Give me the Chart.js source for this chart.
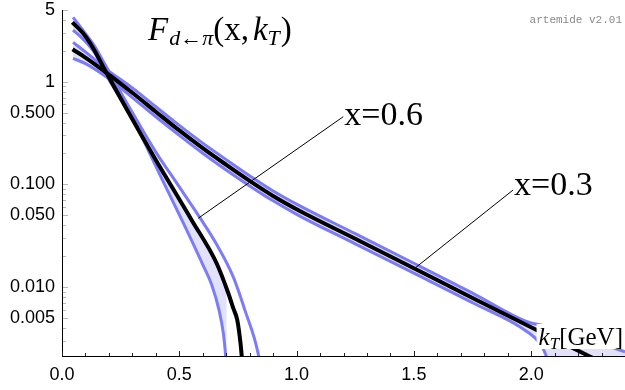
<!DOCTYPE html>
<html>
<head>
<meta charset="utf-8">
<script src="https://cdn.jsdelivr.net/npm/chart.js@4.4.1/dist/chart.umd.min.js"></script>
<style>
  html, body { margin: 0; padding: 0; background: #fff; }
  #wrap { width: 625px; height: 390px; position: relative; }
</style>
</head>
<body>
<div id="wrap"><canvas id="c"></canvas></div>
<script>
/* global Chart */

// x = 0.6 : central value and the two band edges (kT in GeV, F)
const kt06Central = [0.044, 0.09, 0.133, 0.187, 0.375, 0.553, 0.659, 0.709, 0.730, 0.747, 0.761, 0.768];
const f06Central  = [3.79, 2.96, 2.12, 1.25, 0.216, 0.0447, 0.0170, 0.00867, 0.0062, 0.00476, 0.00282, 0.0019];
const kt06Upper = [0.047, 0.09, 0.14, 0.19, 0.30, 0.40, 0.49, 0.595, 0.659, 0.730, 0.780, 0.836, 0.848];
const f06Upper  = [4.24, 3.15, 2.2, 1.38, 0.50, 0.206, 0.102, 0.0447, 0.026, 0.0125, 0.0059, 0.00225, 0.0015];
const kt06Lower = [0.047, 0.09, 0.14, 0.19, 0.30, 0.43, 0.517, 0.60, 0.638, 0.669, 0.688, 0.697, 0.702];
const f06Lower  = [3.19, 2.6, 1.9, 1.15, 0.44, 0.108, 0.042, 0.0165, 0.0105, 0.0060, 0.0035, 0.0022, 0.0015];

// x = 0.3
const kt03Central = [0.045, 0.10, 0.19, 0.30, 0.40, 0.50, 0.60, 0.70, 0.80, 0.90, 1.014, 1.25, 1.50, 1.75, 2.008, 2.25, 2.30];
const f03Central  = [2.07, 1.72, 1.22, 0.78, 0.51, 0.335, 0.225, 0.155, 0.108, 0.077, 0.055, 0.0295, 0.0152, 0.0078, 0.00395, 0.0021, 0.00184];
const kt03Upper = [0.047, 0.10, 0.19, 0.30, 0.40, 0.50, 0.60, 0.70, 0.80, 0.90, 1.014, 1.25, 1.50, 1.75, 1.98, 2.093, 2.40];
const f03Upper  = [2.42, 1.95, 1.32, 0.87, 0.57, 0.375, 0.252, 0.174, 0.121, 0.086, 0.0616, 0.033, 0.0170, 0.0087, 0.0046, 0.0040, 0.00233];
// last point is below the axis (the edge drops to zero there)
const kt03Lower = [0.047, 0.10, 0.19, 0.30, 0.40, 0.50, 0.60, 0.70, 0.80, 0.90, 1.014, 1.25, 1.50, 1.75, 1.98, 2.037, 2.065, 2.08, 2.40];
const f03Lower  = [1.69, 1.50, 1.11, 0.70, 0.455, 0.30, 0.201, 0.138, 0.0965, 0.069, 0.049, 0.0263, 0.0136, 0.0070, 0.0037, 0.0028, 0.0021, 0.0015, 0.0008];

// axes
const xMin = 0, xMax = 2.4;
const yMin = 0.00212, yMax = 5;
const xTickValues = [0, 0.5, 1, 1.5, 2];
const xTickLabels = ['0.0', '0.5', '1.0', '1.5', '2.0'];
const xMinorTicks = [0.1, 0.2, 0.3, 0.4, 0.6, 0.7, 0.8, 0.9, 1.1, 1.2, 1.3, 1.4, 1.6, 1.7, 1.8, 1.9, 2.1, 2.2, 2.3, 2.4];
const yTickValues = [5, 1, 0.5, 0.1, 0.05, 0.01, 0.005];
const yTickLabels = ['5', '1', '0.500', '0.100', '0.050', '0.010', '0.005'];
const yMinorTicks = [4, 3, 2, 0.9, 0.8, 0.7, 0.6, 0.4, 0.3, 0.2, 0.09, 0.08, 0.07, 0.06, 0.04, 0.03, 0.02,
  0.009, 0.008, 0.007, 0.006, 0.004, 0.003];

// labels with leader lines: [kT, F] at the curve, [kT, F] at the text
const labelTexts = ['x=0.6', 'x=0.3'];
const leaderFrom = [[0.581, 0.0467], [1.504, 0.0152]];
const leaderTo = [[1.199, 0.456], [1.923, 0.088]];

const BLUE = 'rgb(124,124,248)';
const BAND = 'rgba(222,222,250,0.9)';

function pts(xs, ys) {
  return xs.map((x, i) => ({ x, y: ys[i] }));
}

function lookup(values, labels, v) {
  const i = values.findIndex(t => Math.abs(t - v) < 1e-9);
  return i < 0 ? '' : labels[i];
}

function drawRuns(ctx, x, y, runs) {
  for (const r of runs) {
    ctx.font = r.font;
    ctx.fillText(r.text, x, y + (r.dy || 0));
    x += ctx.measureText(r.text).width + (r.gap || 0);
  }
  return x;
}

const serif = '"Liberation Serif", "DejaVu Serif", serif';

const decorations = {
  id: 'decorations',
  afterDatasetsDraw(chart) {
    const { ctx, chartArea } = chart;
    const xs = chart.scales.x, ys = chart.scales.y;
    ctx.save();

    // leader lines and their labels
    ctx.strokeStyle = '#000';
    ctx.lineWidth = 1;
    ctx.fillStyle = '#000';
    ctx.textBaseline = 'alphabetic';
    labelTexts.forEach((txt, i) => {
      const x0 = xs.getPixelForValue(leaderFrom[i][0]), y0 = ys.getPixelForValue(leaderFrom[i][1]);
      const x1 = xs.getPixelForValue(leaderTo[i][0]), y1 = ys.getPixelForValue(leaderTo[i][1]);
      ctx.beginPath(); ctx.moveTo(x0, y0); ctx.lineTo(x1, y1); ctx.stroke();
      ctx.font = '34px ' + serif;
      ctx.fillText(txt, x1 + 1, y1 + (i === 0 ? 8 : 5));
    });

    // axis label with white box, bottom right
    const base = chartArea.bottom - 11;
    const runsK = [
      { text: 'k', font: 'italic 25px ' + serif },
      { text: 'T', font: 'italic 17px ' + serif, dy: 4 },
      { text: '[GeV]', font: '25px ' + serif }
    ];
    let w = 0;
    for (const r of runsK) { ctx.font = r.font; w += ctx.measureText(r.text).width; }
    const kx = chartArea.right - w - 2;
    ctx.fillStyle = '#fff';
    ctx.fillRect(kx - 2, base - 21, w + 4, 25);
    ctx.fillStyle = '#000';
    drawRuns(ctx, kx, base, runsK);

    // title
    drawRuns(ctx, chartArea.left + 86, chartArea.top + 30, [
      { text: 'F', font: 'italic 33px ' + serif, gap: 1 },
      { text: 'd←π', font: 'italic 22px ' + serif, dy: 5 },
      { text: '(x,', font: '33px ' + serif, gap: 4 },
      { text: 'k', font: 'italic 33px ' + serif },
      { text: 'T', font: 'italic 22px ' + serif, dy: 5, gap: 1 },
      { text: ')', font: '33px ' + serif }
    ]);

    // version tag
    ctx.font = '11px "Liberation Mono", monospace';
    ctx.fillStyle = '#8a8a8a';
    ctx.textAlign = 'right';
    ctx.textBaseline = 'middle';
    ctx.fillText('artemide v2.01', chartArea.right - 3, chartArea.top + 10);
    ctx.restore();
  },
  afterDraw(chart) {
    const { ctx } = chart;
    const xs = chart.scales.x, ys = chart.scales.y;
    ctx.save();
    ctx.lineWidth = 1;
    // x ticks point up into the plot
    ctx.strokeStyle = '#222';
    for (const t of xs.ticks) {
      const px = Math.round(xs.getPixelForValue(t.value)) + 0.5;
      const len = lookup(xTickValues, xTickLabels, t.value) ? 5 : 3;
      ctx.beginPath(); ctx.moveTo(px, ys.bottom); ctx.lineTo(px, ys.bottom - len); ctx.stroke();
    }
    // y ticks, faint, pointing right
    ctx.strokeStyle = '#b8b8b8';
    for (const t of ys.ticks) {
      const py = Math.round(ys.getPixelForValue(t.value)) + 0.5;
      const len = lookup(yTickValues, yTickLabels, t.value) ? 5 : 3;
      ctx.beginPath(); ctx.moveTo(xs.left + 1, py); ctx.lineTo(xs.left + 1 + len, py); ctx.stroke();
    }
    ctx.restore();
  }
};

const line = (data, color, width, fill, bg) => ({
  data,
  parsing: false,
  borderColor: color,
  borderWidth: width,
  backgroundColor: bg || 'transparent',
  fill: fill,
  pointRadius: 0,
  cubicInterpolationMode: 'monotone'
});

new Chart(document.getElementById('c'), {
  type: 'line',
  data: {
    datasets: [
      line(pts(kt06Central, f06Central), '#000', 4, false),
      line(pts(kt03Central, f03Central), '#000', 4, false),
      line(pts(kt06Upper, f06Upper), BLUE, 3, false),
      line(pts(kt06Lower, f06Lower), BLUE, 3, 0, BAND),
      line(pts(kt03Upper, f03Upper), BLUE, 3, false),
      line(pts(kt03Lower, f03Lower), BLUE, 3, 4, BAND)
    ]
  },
  options: {
    responsive: true,
    maintainAspectRatio: false,
    animation: false,
    layout: { padding: { top: 10, right: 0, left: 0, bottom: 0 } },
    scales: {
      x: {
        type: 'linear',
        min: xMin,
        max: xMax,
        afterBuildTicks: (s) => {
          s.ticks = xTickValues.concat(xMinorTicks).sort((a, b) => a - b).map(v => ({ value: v }));
        },
        afterFit: (s) => { s.height = 34; s.paddingLeft = 0; s.paddingRight = 0; },
        ticks: {
          autoSkip: false,
          maxRotation: 0,
          padding: 8,
          color: '#000',
          font: { family: 'Liberation Sans', size: 18 },
          callback: (v) => lookup(xTickValues, xTickLabels, v)
        },
        grid: { display: false, drawTicks: false },
        border: { display: true, color: '#000', width: 1 }
      },
      y: {
        type: 'logarithmic',
        min: yMin,
        max: yMax,
        afterBuildTicks: (s) => {
          s.ticks = yTickValues.concat(yMinorTicks).sort((a, b) => b - a).map(v => ({ value: v }));
        },
        afterFit: (s) => { s.width = 62; s.paddingTop = 0; s.paddingBottom = 0; },
        ticks: {
          autoSkip: false,
          padding: 7,
          color: '#000',
          font: { family: 'Liberation Sans', size: 18 },
          callback: (v) => lookup(yTickValues, yTickLabels, v)
        },
        grid: { display: false, drawTicks: false },
        border: { display: true, color: '#000', width: 1 }
      }
    },
    plugins: {
      legend: { display: false },
      tooltip: { enabled: false },
      filler: { drawTime: 'beforeDatasetsDraw' }
    }
  },
  plugins: [decorations]
});
</script>
</body>
</html>
